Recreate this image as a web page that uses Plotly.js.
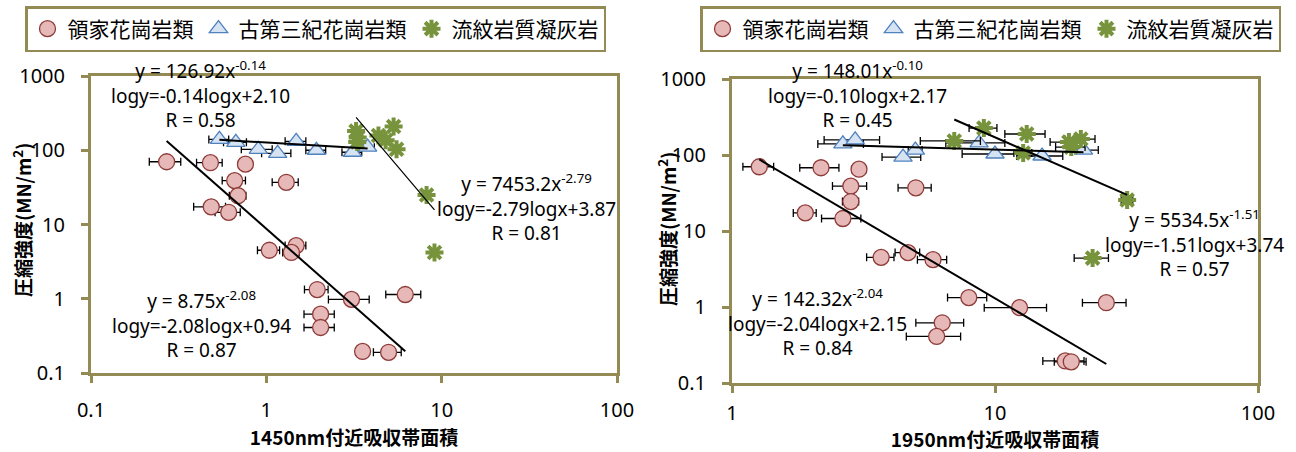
<!DOCTYPE html>
<html>
<head>
<meta charset="utf-8">
<script src="https://cdn.plot.ly/plotly-3.0.1.min.js"></script>
<style>html,body{margin:0;padding:0;background:#fff}#chart{width:1296px;height:452px}</style>
</head>
<body>
<div id="chart"></div>
<script>
// ---------- data ----------
const seriesNames = ['領家花崗岩類', '古第三紀花崗岩類', '流紋岩質凝灰岩'];

// 領家花崗岩類 (same samples in both panels): compressive strength
const ryokeStrength = [70, 68, 65, 39, 37, 24.4, 17.3, 14.6, 4.5, 5.2, 4.2, 1.33, 0.98, 1.14, 0.62, 0.41, 0.195, 0.19];
const ryokeArea1450 = [0.27, 0.48, 0.76, 0.66, 1.30, 0.69, 0.485, 0.61, 1.04, 1.48, 1.39, 1.95, 3.06, 6.2, 2.04, 2.04, 3.54, 4.98];
const ryokeErr1450  = [0.055, 0.08, 0.03, 0.1, 0.22, 0.075, 0.1, 0.1, 0.15, 0.2, 0.15, 0.3, 0.8, 1.4, 0.4, 0.4, 0.3, 0.9];
const ryokeArea1950 = [1.27, 2.18, 3.04, 2.83, 5.0, 2.83, 1.90, 2.64, 3.69, 4.67, 5.81, 7.95, 12.4, 26.5, 6.3, 6.0, 18.5, 19.5];
const ryokeErr1950  = [0.17, 0.37, 0.18, 0.42, 0.72, 0.2, 0.19, 0.45, 0.44, 0.5, 0.74, 1.35, 3.3, 5.0, 1.3, 1.4, 3.3, 2.7];

// 古第三紀花崗岩類
const paleoArea1450 = [0.54, 0.67, 0.90, 1.16, 1.48, 1.93, 3.10, 3.78];
const paleoStr1450  = [140, 128, 103, 91, 132, 100, 94, 110];
const paleoErr1450  = [0.07, 0.1, 0.18, 0.22, 0.2, 0.25, 0.4, 0.35];
const paleoArea1950 = [2.64, 2.94, 4.47, 4.98, 8.7, 10.0, 15.1, 21.7];
const paleoStr1950  = [140, 158, 94, 116, 144, 103, 97, 116];
const paleoErr1950  = [0.52, 0.7, 0.75, 0.3, 2.2, 2.5, 3.0, 3.0];

// 流紋岩質凝灰岩
const tuffArea1450 = [3.25, 3.32, 3.30, 4.36, 4.79, 5.32, 5.53, 8.2, 9.1];
const tuffStr1450  = [181, 149, 129, 158, 136, 209, 103, 25, 4.2];
const tuffArea1950 = [7.0, 9.07, 13.2, 12.8, 19.1, 21.2, 19.5, 31.8, 23.5];
const tuffStr1950  = [153, 226, 189, 106, 148, 162, 127, 25.6, 4.4];
const tuffErr1950  = [1.8, 1.1, 2.3, 1.0, 2.9, 2.8, 2.5, 1.6, 3.5];

// power-law fits y = A x^B  (order: 領家, 古第三紀, 流紋岩質)
const fitA1450 = [8.75, 126.92, 7453.2];
const fitB1450 = [-2.08, -0.14, -2.79];
const fitC1450 = [0.94, 2.10, 3.87];
const fitR1450 = [0.87, 0.58, 0.81];
const fitA1950 = [142.32, 148.01, 5534.5];
const fitB1950 = [-2.04, -0.10, -1.51];
const fitC1950 = [2.15, 2.17, 3.74];
const fitR1950 = [0.84, 0.45, 0.57];

// axis ticks
const xTicks1450 = [0.1, 1, 10, 100];
const xTicks1950 = [1, 10, 100];
const yTicks = [0.1, 1, 10, 100, 1000];
const yTitle = '<b>圧縮強度(MN/m<sup>2</sup>)</b>';
const xTitle1450 = '1450nm付近吸収帯面積';
const xTitle1950 = '1950nm付近吸収帯面積';

// ---------- styles ----------
const olive = '#948A54';
const W = 1296, H = 452;
const px = v => v / W, py = v => 1 - v / H;
const fontLatin = 'Noto Sans, Open Sans, sans-serif';
const fontCJK = 'Noto Sans CJK JP, Noto Sans, sans-serif';

const pinkMarker = {symbol: 'circle', size: 16, color: '#E6B9B8', line: {color: '#8E3B38', width: 1.3}};
const blueMarker = {symbol: 'triangle-up', size: 16, color: '#D6E3F3', line: {color: '#4F81BD', width: 1.3}};
const greenMarker = {symbol: 'asterisk', size: 15, color: '#77933C', line: {color: '#77933C', width: 4}};
const errStyle = {type: 'data', color: '#000', thickness: 1.3, width: 4};

function pts(x, y, err, name, marker, xa, ya, legend) {
  const t = {type: 'scatter', mode: 'markers', x: x, y: y, name: name, marker: marker,
             xaxis: xa, yaxis: ya, legend: legend, showlegend: true, cliponaxis: false};
  if (err) t.error_x = Object.assign({array: err, visible: true}, errStyle);
  return t;
}
function trend(xs, A, B, xa, ya, w) {
  const xmin = Math.min(...xs), xmax = Math.max(...xs);
  return {type: 'scatter', mode: 'lines', x: [xmin, xmax], y: [A * Math.pow(xmin, B), A * Math.pow(xmax, B)],
          line: {color: '#000', width: w}, xaxis: xa, yaxis: ya, showlegend: false, hoverinfo: 'skip'};
}

const data = [
  pts(ryokeArea1450, ryokeStrength, ryokeErr1450, seriesNames[0], pinkMarker, 'x', 'y', 'legend'),
  pts(paleoArea1450, paleoStr1450, paleoErr1450, seriesNames[1], blueMarker, 'x', 'y', 'legend'),
  pts(tuffArea1450, tuffStr1450, null, seriesNames[2], greenMarker, 'x', 'y', 'legend'),
  trend(ryokeArea1450, fitA1450[0], fitB1450[0], 'x', 'y', 2),
  trend(paleoArea1450, fitA1450[1], fitB1450[1], 'x', 'y', 2),
  trend(tuffArea1450, fitA1450[2], fitB1450[2], 'x', 'y', 1.2),
  pts(ryokeArea1950, ryokeStrength, ryokeErr1950, seriesNames[0], pinkMarker, 'x2', 'y2', 'legend2'),
  pts(paleoArea1950, paleoStr1950, paleoErr1950, seriesNames[1], blueMarker, 'x2', 'y2', 'legend2'),
  pts(tuffArea1950, tuffStr1950, tuffErr1950, seriesNames[2], greenMarker, 'x2', 'y2', 'legend2'),
  trend(ryokeArea1950, fitA1950[0], fitB1950[0], 'x2', 'y2', 2),
  trend(paleoArea1950, fitA1950[1], fitB1950[1], 'x2', 'y2', 2),
  trend(tuffArea1950, fitA1950[2], fitB1950[2], 'x2', 'y2', 2)
];

function fitText(A, B, C, R) {
  return 'y = ' + A + 'x<sup>' + B.toFixed(2) + '</sup><br>logy=' + B.toFixed(2) + 'logx+' + C.toFixed(2) +
         '<br>R = ' + R.toFixed(2);
}
const fitPos1450 = [[201, 324], [200, 94], [526, 207]];
const fitPos1950 = [[817, 322], [857, 94], [1194, 243]];
const annotations = [];
for (let i = 0; i < 3; i++) {
  annotations.push({xref: 'paper', yref: 'paper', x: px(fitPos1450[i][0]), y: py(fitPos1450[i][1]),
    xanchor: 'center', yanchor: 'middle', align: 'center', showarrow: false,
    text: fitText(fitA1450[i], fitB1450[i], fitC1450[i], fitR1450[i]), font: {family: fontLatin, size: 19, color: '#000'}});
  annotations.push({xref: 'paper', yref: 'paper', x: px(fitPos1950[i][0]), y: py(fitPos1950[i][1]),
    xanchor: 'center', yanchor: 'middle', align: 'center', showarrow: false,
    text: fitText(fitA1950[i], fitB1950[i], fitC1950[i], fitR1950[i]), font: {family: fontLatin, size: 19, color: '#000'}});
}
// y-axis titles (rotated)
const yTitlePos = [[22, 220], [667, 229]];
yTitlePos.forEach(p => annotations.push({xref: 'paper', yref: 'paper', x: px(p[0]), y: py(p[1]),
  xanchor: 'center', yanchor: 'middle', textangle: -90, showarrow: false, text: yTitle,
  font: {family: fontCJK, size: 19, color: '#000'}}));

const axisCommon = {type: 'log', showline: true, linecolor: olive, linewidth: 3, mirror: true,
  ticks: 'outside', ticklen: 7, tickwidth: 3, tickcolor: olive, showgrid: false, zeroline: false,
  tickmode: 'array', tickfont: {family: fontLatin, size: 20, color: '#000'}, automargin: false};
const titleFont = {family: fontCJK, size: 19, color: '#000', weight: 'bold'};

const legendCommon = {orientation: 'h', xanchor: 'left', yanchor: 'top', bgcolor: '#fff',
  bordercolor: olive, borderwidth: 2.5,
  font: {family: fontCJK, size: 21, color: '#000'}};

const layout = {
  width: W, height: H, margin: {l: 0, r: 0, t: 0, b: 0},
  paper_bgcolor: '#fff', plot_bgcolor: '#fff',
  xaxis: Object.assign({}, axisCommon, {domain: [px(91), px(617)], range: [-1, 2], anchor: 'y',
    tickvals: xTicks1450, ticktext: xTicks1450.map(String), ticklabelstandoff: 10,
    title: {text: xTitle1450, font: titleFont, standoff: 6}}),
  yaxis: Object.assign({}, axisCommon, {domain: [1 - 373 / H, 1 - 76 / H], range: [-1, 3], anchor: 'x',
    tickvals: yTicks, ticktext: yTicks.map(String), ticklabelstandoff: 12}),
  xaxis2: Object.assign({}, axisCommon, {domain: [px(732), px(1258)], range: [0, 2], anchor: 'y2',
    tickvals: xTicks1950, ticktext: xTicks1950.map(String), ticklabelstandoff: 3,
    title: {text: xTitle1950, font: titleFont, standoff: 6}}),
  yaxis2: Object.assign({}, axisCommon, {domain: [1 - 383 / H, 1 - 79 / H], range: [-1, 3], anchor: 'x2',
    tickvals: yTicks, ticktext: yTicks.map(String), ticklabelstandoff: 12}),
  legend: Object.assign({}, legendCommon, {x: px(25), y: py(6)}),
  legend2: Object.assign({}, legendCommon, {x: px(700), y: py(6)}),
  annotations: annotations
};

Plotly.newPlot('chart', data, layout, {staticPlot: true});
</script>
</body>
</html>
